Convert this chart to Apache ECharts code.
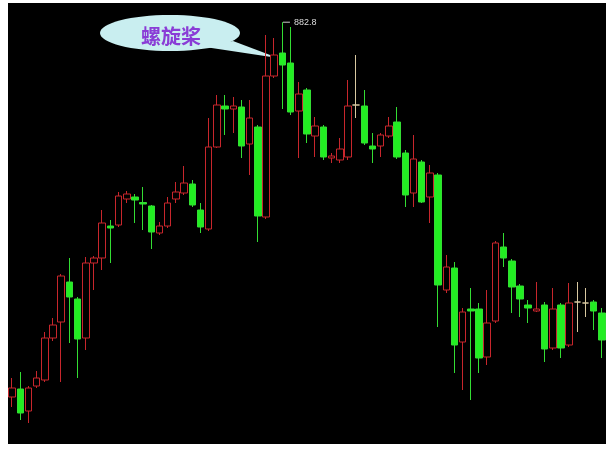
<!DOCTYPE html>
<html>
<head>
<meta charset="utf-8">
<script src="https://cdn.jsdelivr.net/npm/echarts@6/dist/echarts.min.js"></script>
<style>html,body{margin:0;padding:0;background:#fff;}#c{width:608px;height:449px;}</style>
</head>
<body>
<div id="c"></div>
<script>
// Candle values: [open, close, lowest, highest]
var categories = [];
for (var k = 1; k <= 73; k++) categories.push('K' + k);

var opens  = [508,516,494,519,525,567,583,623,606,567,642,647,679,680,706,708,702.5,699,672,679,706,712,721,695,676,758,799,796,798,761,778,688,829,852,842,794,815,769,778,747,745,748,800,799,759,759,769,783,752,712,743,708,730,615,637,563,596,596,548,584,658,644,619,600,594,600,557,600,560,603,602,603,592];
var closes = [517,492,517,527,567,580,629,608,566,642,647,682,677,709,711,705,701,673,679,702,713,722,700,678,758,800,796,799,759,787,689,829,850,840,793,811,771,779,748,749,756,799,800,762,756,770,779,748,710,746,703,732,620,638,560,593,594,547,582,662,647,618,606,597,596,556,596,557,602,603,602,594,565];
var lows   = [498,485,482,517,523,564,523,562,527,555,615,635,642,678,702,682,675,656,670,677,702,710,698,672,674,757,770,772,747,730,663,686,827,796,790,747,762,748,745,742,742,745,787,760,742,748,767,746,698,698,702,682,578,612,532,515,505,532,540,582,638,592,588,582,593,543,555,547,558,573,588,575,547];
var highs  = [527,533,519,534,573,587,631,647,608,648,649,695,685,713,714,711,718,700,683,708,723,739,725,702,787,810,810,808,805,805,780,870,867,882.8,878,823,817,788,780,752,767,825,850,815,772,772,788,798,755,770,745,740,732,650,643,597,617,602,615,664,672,646,621,605,623,603,617,602,622,623,617,605,597];

var candleData = categories.map(function (c, i) {
  return [opens[i], closes[i], lows[i], highs[i]];
});

var chart = echarts.init(document.getElementById('c'), null, {renderer: 'canvas'});
chart.setOption({
  backgroundColor: '#ffffff',
  animation: false,
  grid: {left: 8, right: 2, top: 3, bottom: 5, show: true, backgroundColor: '#000000', borderWidth: 0},
  xAxis: {type: 'category', data: categories, show: false, boundaryGap: true},
  yAxis: {type: 'value', min: 461, max: 902, show: false, splitLine: {show: false}},
  series: [{
    type: 'candlestick',
    data: candleData,
    barWidth: 7,
    itemStyle: {
      color: '#000000',
      borderColor: '#c8262c',
      color0: '#22ee22',
      borderColor0: '#33dd33',
      borderColorDoji: '#d8c8a0',
      borderWidth: 1
    },
    markPoint: {
      symbol: 'rect',
      symbolSize: [7, 1],
      symbolOffset: [4, 0],
      itemStyle: {color: '#cccccc'},
      label: {
        show: true,
        position: 'right',
        distance: 4,
        color: '#dddddd',
        fontSize: 9,
        fontFamily: 'Liberation Sans',
        formatter: function (p) { return String(p.value); }
      },
      data: [{type: 'max', valueDim: 'highest', name: 'max'}]
    }
  }],
  graphic: [
    {type: 'polygon', shape: {points: [[205, 47], [233, 41], [278, 58]]}, style: {fill: '#c9eef0'}},
    {type: 'ellipse', shape: {cx: 170, cy: 33, rx: 70, ry: 18}, style: {fill: '#c9eef0'}},
    {type: 'text', x: 171, y: 36, style: {text: '螺旋桨', fill: '#8a3cd6', font: 'bold 20px "Noto Sans CJK SC"', textAlign: 'center', textVerticalAlign: 'middle'}}
  ]
});
</script>
</body>
</html>
